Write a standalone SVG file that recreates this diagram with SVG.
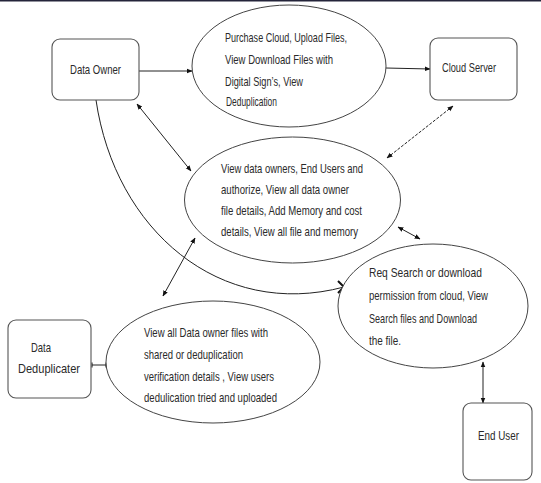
<svg xmlns="http://www.w3.org/2000/svg" width="541" height="483" viewBox="0 0 541 483">
<style>
.box{fill:#fff;stroke:#555;stroke-width:1.1}
.ell{fill:#fff;stroke:#444;stroke-width:1}
.t{font-family:"Liberation Sans",Arial,sans-serif;font-size:12px;fill:#2a2a2a}
.ln{fill:none;stroke:#222;stroke-width:1}
</style>
<defs>
<marker id="ah" viewBox="0 0 10 10" refX="9" refY="5" markerWidth="6" markerHeight="6" orient="auto-start-reverse" markerUnits="userSpaceOnUse">
<path d="M0,1 L10,5 L0,9 z" fill="#111"/>
</marker>
<marker id="bar" viewBox="0 0 4 10" refX="2" refY="5" markerWidth="2" markerHeight="6" orient="auto" markerUnits="userSpaceOnUse">
<path d="M2,0 L2,10" stroke="#111" stroke-width="2"/>
</marker>
</defs>
<rect x="0" y="0" width="541" height="1.5" fill="#24243a"/>
<g id="connectors">
<line class="ln" x1="139" y1="71" x2="192" y2="71" marker-end="url(#ah)"/>
<line class="ln" x1="386" y1="68" x2="430" y2="69" marker-end="url(#ah)"/>
<line class="ln" x1="453" y1="106" x2="387" y2="158" stroke-dasharray="3,1.5" marker-start="url(#ah)" marker-end="url(#ah)"/>
<line class="ln" x1="137" y1="104" x2="191" y2="171" marker-start="url(#ah)" marker-end="url(#ah)"/>
<line class="ln" x1="195" y1="238" x2="163" y2="296" marker-start="url(#ah)" marker-end="url(#ah)"/>
<line class="ln" x1="398" y1="227" x2="420" y2="239" stroke-width="1.5" marker-start="url(#ah)" marker-end="url(#ah)"/>
<path class="ln" d="M96,100 C115,230 220,320 344,287"/>
<path d="M338,281 L344,287 L338,293" fill="none" stroke="#111" stroke-width="2"/>
<line class="ln" x1="483" y1="362" x2="483" y2="403" marker-start="url(#ah)" marker-end="url(#ah)"/>
<line class="ln" x1="92" y1="365" x2="106" y2="365" marker-start="url(#bar)" marker-end="url(#bar)"/>
</g>
<g id="data-owner">
<rect class="box" x="52" y="39" width="87" height="61" rx="8"/>
<g transform="scale(0.75,1)">
<text class="t" x="93.33" y="74" textLength="68" lengthAdjust="spacingAndGlyphs">Data Owner</text>
</g>
</g>
<g id="owner-actions">
<ellipse class="ell" cx="289" cy="66" rx="97" ry="61"/>
<g transform="scale(0.75,1)">
<text class="t" x="300" y="42" textLength="162.67" lengthAdjust="spacingAndGlyphs">Purchase Cloud, Upload Files,</text>
<text class="t" x="300" y="64" textLength="144" lengthAdjust="spacingAndGlyphs">View Download Files with</text>
<text class="t" x="300" y="86" textLength="104" lengthAdjust="spacingAndGlyphs">Digital Sign’s, View</text>
<text class="t" x="301.33" y="106" textLength="68" lengthAdjust="spacingAndGlyphs">Deduplication</text>
</g>
</g>
<g id="cloud-server">
<rect class="box" x="430" y="38" width="87" height="62" rx="8"/>
<g transform="scale(0.75,1)">
<text class="t" x="589.33" y="72" textLength="72" lengthAdjust="spacingAndGlyphs">Cloud Server</text>
</g>
</g>
<g id="server-actions">
<ellipse class="ell" cx="292.5" cy="200" rx="108" ry="63"/>
<g transform="scale(0.75,1)">
<text class="t" x="294.67" y="173" textLength="189.33" lengthAdjust="spacingAndGlyphs">View data owners, End Users  and</text>
<text class="t" x="294.67" y="194" textLength="170.67" lengthAdjust="spacingAndGlyphs">authorize, View all data owner</text>
<text class="t" x="294.67" y="215" textLength="188" lengthAdjust="spacingAndGlyphs">file details, Add Memory and cost</text>
<text class="t" x="294.67" y="236" textLength="182.67" lengthAdjust="spacingAndGlyphs">details, View all file and memory</text>
</g>
</g>
<g id="user-actions">
<ellipse class="ell" cx="433" cy="306" rx="95" ry="62"/>
<g transform="scale(0.75,1)">
<text class="t" x="492" y="277" textLength="150.67" lengthAdjust="spacingAndGlyphs">Req Search or download</text>
<text class="t" x="492" y="300" textLength="158.67" lengthAdjust="spacingAndGlyphs">permission from cloud, View</text>
<text class="t" x="492" y="323" textLength="144" lengthAdjust="spacingAndGlyphs">Search files and Download</text>
<text class="t" x="492" y="345" textLength="42.67" lengthAdjust="spacingAndGlyphs">the file.</text>
</g>
</g>
<g id="dedup-actions">
<ellipse class="ell" cx="213" cy="362" rx="107" ry="61"/>
<g transform="scale(0.75,1)">
<text class="t" x="192" y="337" textLength="165.33" lengthAdjust="spacingAndGlyphs">View all Data owner files with</text>
<text class="t" x="192" y="359" textLength="132" lengthAdjust="spacingAndGlyphs">shared or deduplication</text>
<text class="t" x="192" y="381" textLength="173.33" lengthAdjust="spacingAndGlyphs">verification details , View users</text>
<text class="t" x="192" y="402" textLength="177.33" lengthAdjust="spacingAndGlyphs">dedulication tried and uploaded</text>
</g>
</g>
<g id="data-deduplicater">
<rect class="box" x="8" y="320" width="83" height="78" rx="8"/>
<g transform="scale(0.75,1)">
<text class="t" x="41.33" y="352" textLength="26.67" lengthAdjust="spacingAndGlyphs">Data</text>
<text class="t" x="24" y="373" textLength="82.67" lengthAdjust="spacingAndGlyphs">Deduplicater</text>
</g>
</g>
<g id="end-user">
<rect class="box" x="463" y="403" width="69" height="77" rx="8"/>
<g transform="scale(0.75,1)">
<text class="t" x="637.33" y="440" textLength="54.67" lengthAdjust="spacingAndGlyphs">End User</text>
</g>
</g>
</svg>
